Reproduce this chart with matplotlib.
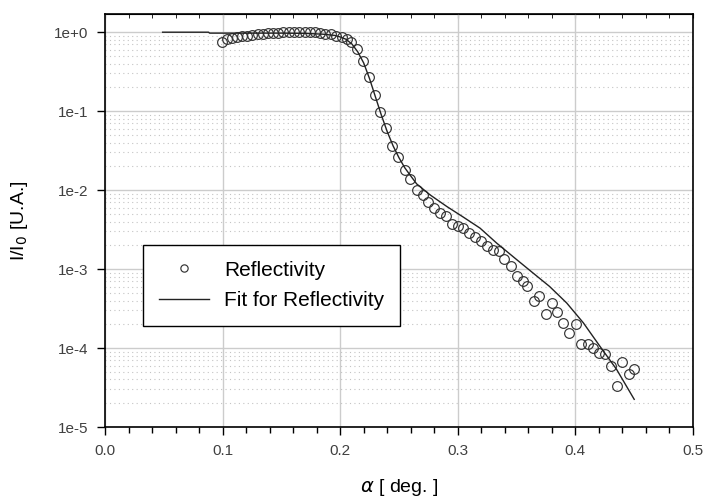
import numpy as np
import matplotlib
matplotlib.use("Agg")
import matplotlib.pyplot as plt
from matplotlib.ticker import MultipleLocator, LogLocator, FuncFormatter, NullFormatter

plt.rcParams['font.family'] = ['Liberation Sans', 'DejaVu Sans']

# measured reflectivity
alpha_meas = [0.0992, 0.1035, 0.1077, 0.1120, 0.1162, 0.1205, 0.1253, 0.1298, 0.1341, 0.1389,
              0.1432, 0.1474, 0.1517, 0.1565, 0.1607, 0.1652, 0.1700, 0.1743, 0.1786, 0.1828,
              0.1871, 0.1919, 0.1964, 0.2012, 0.2055, 0.2089, 0.2140, 0.2197, 0.2248, 0.2296,
              0.2338, 0.2389, 0.2443, 0.2494, 0.2548, 0.2594, 0.2650, 0.2701, 0.2749, 0.2798,
              0.2849, 0.2900, 0.2948, 0.2999, 0.3047, 0.3098, 0.3149, 0.3195, 0.3246, 0.3297,
              0.3353, 0.3396, 0.3452, 0.3506, 0.3551, 0.3591, 0.3650, 0.3693, 0.3747, 0.3798,
              0.3846, 0.3897, 0.3948, 0.4005, 0.4045, 0.4104, 0.4152, 0.4200, 0.4252, 0.4303,
              0.4350, 0.4399, 0.4456, 0.4496]
refl_meas = [0.760, 0.822, 0.855, 0.873, 0.889, 0.906, 0.925, 0.944, 0.951, 0.971,
             0.979, 0.989, 1.000, 1.009, 1.009, 1.019, 1.019, 1.009, 1.000, 0.979,
             0.962, 0.944, 0.906, 0.865, 0.822, 0.760, 0.610, 0.438, 0.274, 0.161,
             0.0970, 0.0619, 0.0364, 0.0266, 0.0181, 0.0139, 0.00989, 0.00873, 0.00697, 0.00592,
             0.00512, 0.00473, 0.00374, 0.00353, 0.00330, 0.00286, 0.00254, 0.00230, 0.00197, 0.00175,
             0.00167, 0.00135, 0.00110, 8.22e-4, 6.97e-4, 6.15e-4, 3.89e-4, 4.59e-4, 2.69e-4, 3.72e-4,
             2.86e-4, 2.07e-4, 1.55e-4, 2.03e-4, 1.12e-4, 1.12e-4, 1.00e-4, 8.65e-5, 8.51e-5, 5.85e-5,
             3.33e-5, 6.65e-5, 4.68e-5, 5.47e-5]

# fitted curve
alpha_fit = [0.049, 0.088, 0.089, 0.120, 0.150, 0.170, 0.185, 0.195, 0.200, 0.205,
             0.210, 0.215, 0.220, 0.225, 0.230, 0.235, 0.240, 0.245, 0.250, 0.255,
             0.260, 0.265, 0.2764, 0.2906, 0.3047, 0.3189, 0.3331, 0.350, 0.364, 0.378,
             0.3926, 0.4067, 0.4209, 0.435, 0.450]
refl_fit = [1.0, 1.0, 0.973, 0.973, 0.973, 0.966, 0.944, 0.912, 0.871, 0.813,
            0.708, 0.562, 0.407, 0.257, 0.151, 0.0891, 0.0550, 0.0363, 0.0257, 0.0191,
            0.0151, 0.0120, 0.00871, 0.00621, 0.00455, 0.00330, 0.00213, 0.00132, 8.91e-4, 6.03e-4,
            3.72e-4, 2.09e-4, 1.05e-4, 5.37e-5, 2.24e-5]

fig = plt.figure(figsize=(7.06, 5.0), dpi=100)
ax = fig.add_axes([0.1487, 0.146, 0.8329, 0.826])

ax.plot(alpha_meas, refl_meas, 'o', ms=7, mfc='none', mec='#333333', mew=0.85,
        label='Reflectivity', zorder=3)
ax.plot(alpha_fit, refl_fit, '-', color='#222222', lw=1.0,
        label='Fit for Reflectivity', zorder=4)

ax.set_yscale('log')
ax.set_xlim(0, 0.5)
ax.set_ylim(1e-5, 1.70)

ax.xaxis.set_major_locator(MultipleLocator(0.1))
ax.xaxis.set_minor_locator(MultipleLocator(0.02))
ax.xaxis.set_major_formatter(FuncFormatter(lambda v, p: f"{v:.1f}"))
ax.yaxis.set_major_locator(LogLocator(base=10, numticks=10))
ax.yaxis.set_minor_locator(LogLocator(base=10, subs=np.arange(2, 10), numticks=20))
ax.yaxis.set_major_formatter(FuncFormatter(lambda v, p: f"1e{int(round(np.log10(v))):+d}"))
ax.yaxis.set_minor_formatter(NullFormatter())

ax.grid(True, which='major', axis='both', color='#cccccc', lw=1.0, zorder=0)
ax.grid(True, which='minor', axis='y', color='#c4c4c4', lw=0.8, linestyle=(0, (1, 3)), zorder=0)
ax.set_axisbelow(True)

ax.tick_params(axis='both', which='major', direction='out', length=6, width=1,
               labelsize=11, labelcolor='#404040', pad=6)
ax.tick_params(axis='x', which='minor', direction='out', length=4, width=1)
ax.tick_params(axis='y', which='minor', length=0)

top = ax.secondary_xaxis('top')
top.xaxis.set_major_locator(MultipleLocator(0.1))
top.xaxis.set_minor_locator(MultipleLocator(0.02))
top.tick_params(which='both', direction='in', length=3, labeltop=False)

for s in ax.spines.values():
    s.set_color('black')
    s.set_linewidth(1.2)

ax.set_xlabel(r'$\alpha$ [ deg. ]', fontsize=14, labelpad=14)
ax.set_ylabel(r'I/I$_0$ [U.A.]', fontsize=14, labelpad=17)

leg = ax.legend(loc='upper left', bbox_to_anchor=(0.0646, 0.4407), borderaxespad=0,
                fontsize=15, frameon=True, fancybox=False, edgecolor='black',
                framealpha=1, markerscale=0.75, handlelength=2.4, borderpad=0.75,
                labelspacing=0.55, handletextpad=0.75)
leg.get_frame().set_linewidth(1.0)

fig.savefig('out.png', dpi=100)
